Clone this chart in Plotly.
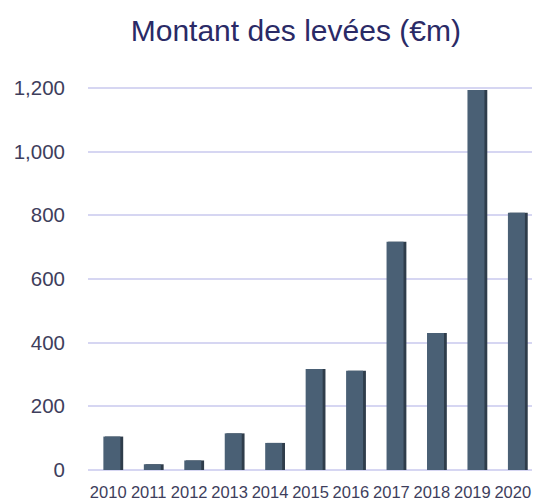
import plotly.graph_objs as go

years = ['2010', '2011', '2012', '2013', '2014', '2015', '2016', '2017', '2018', '2019', '2020']
amounts = [105, 18, 30, 115, 85, 317, 312, 717, 430, 1193, 808]

FRONT = '#4a6075'
SIDE = '#2f3d4b'
TITLE = '#2a2a66'
TICKS = '#3e3e5c'
GRID = '#d6d6f2'
FONT = 'Liberation Sans, Arial, sans-serif'

fig = go.Figure()

# darker bar behind, shifted right, fakes the 3D side face
fig.add_trace(go.Bar(
    x=years, y=amounts,
    marker=dict(color=SIDE, line=dict(width=0)),
    width=0.45, offset=-0.08,
    hoverinfo='skip', showlegend=False
))
fig.add_trace(go.Bar(
    x=years, y=amounts,
    marker=dict(color=FRONT, line=dict(width=0)),
    width=0.42, offset=-0.12,
    name='Montant', showlegend=False
))

# page body has an 8px margin, so the figure is a bit smaller than the window
fig.update_layout(
    width=532, height=492,
    barmode='overlay',
    title=dict(text='Montant des levées (€m)', x=0.541, y=0.955, xanchor='center', yanchor='middle',
               font=dict(size=30, color=TITLE, family=FONT)),
    font=dict(family=FONT, color=TICKS),
    plot_bgcolor='white', paper_bgcolor='white',
    margin=dict(l=80, r=7, t=70, b=30),
    xaxis=dict(
        showgrid=False, showline=False, ticks='', automargin=False,
        tickfont=dict(size=16.5, color=TICKS), ticklabelstandoff=10,
    ),
    yaxis=dict(
        range=[0, 1231], dtick=200, tickformat=',', automargin=False,
        gridcolor=GRID, gridwidth=1.5, zeroline=True, zerolinecolor=GRID,
        zerolinewidth=1.5, showline=False, ticks='',
        tickfont=dict(size=20.5, color=TICKS), ticklabelstandoff=22,
    ),
)

fig.write_html("out.html")
